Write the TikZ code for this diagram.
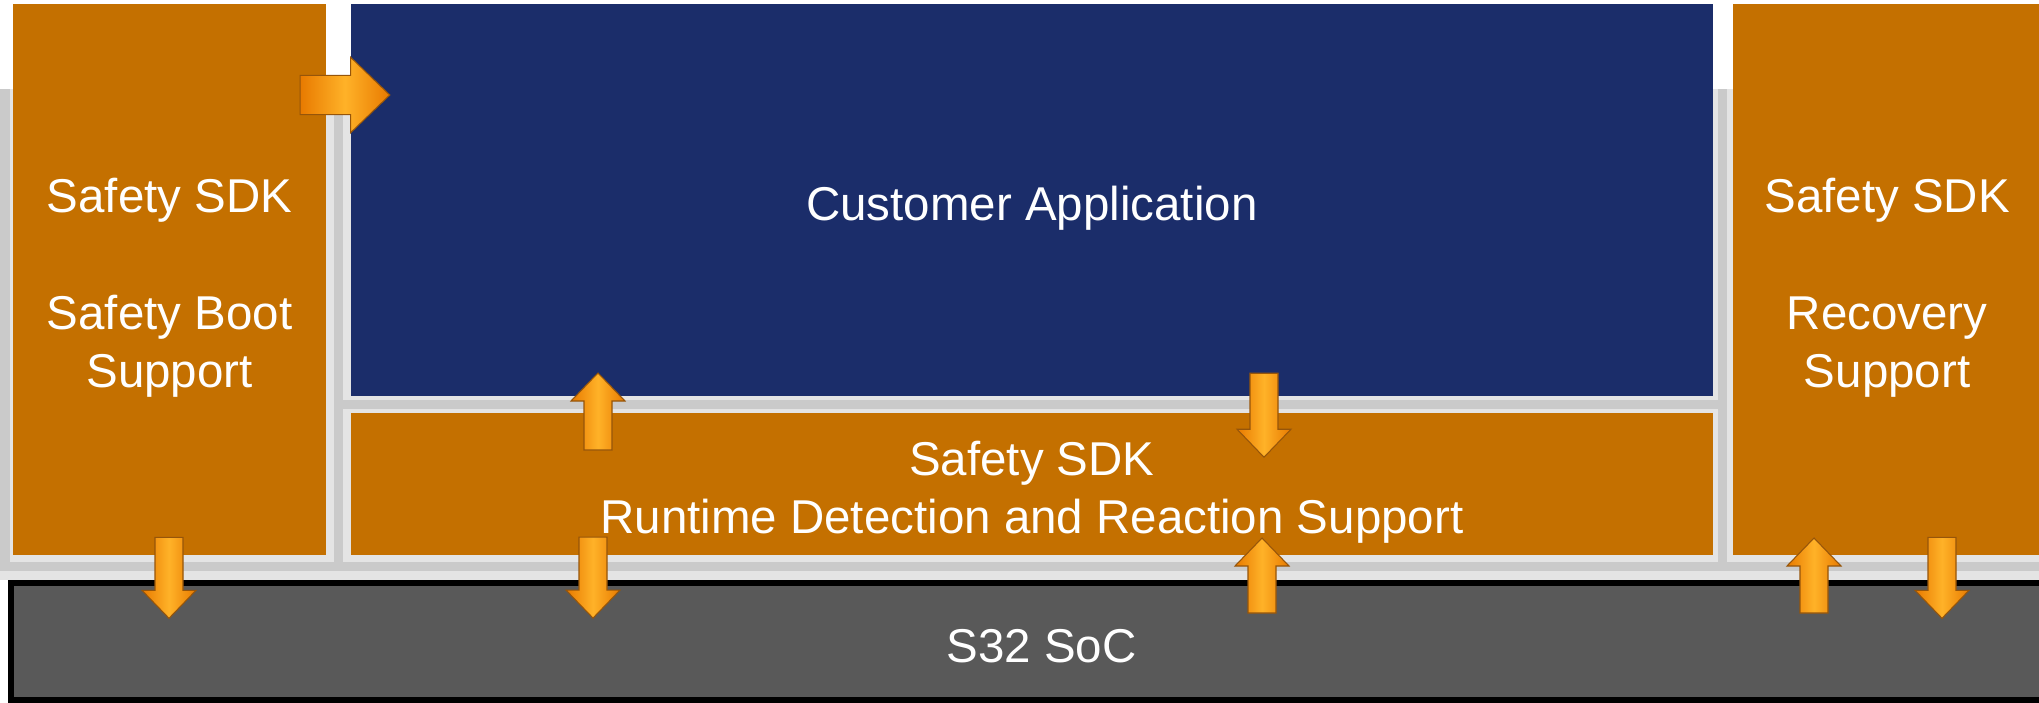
\documentclass[tikz,border=0pt]{standalone}
\usepackage{fontspec}
\setmainfont{Liberation Sans}
\usepackage{tikz}
\usetikzlibrary{calc}

\definecolor{sdkorange}{RGB}{196,112,0}
\definecolor{appblue}{RGB}{27,45,106}
\definecolor{socgray}{RGB}{89,89,89}
\definecolor{panelgray}{RGB}{228,228,228}
\definecolor{seamgray}{RGB}{202,202,202}
\definecolor{arrowlight}{RGB}{255,178,40}
\definecolor{arrowdark}{RGB}{232,122,0}
\definecolor{arrowedge}{RGB}{150,85,10}

% strut that pushes the first text line down a little
\newcommand{\lift}[1][14.5pt]{\rule{0pt}{#1}}

\begin{document}
\begin{tikzpicture}[x=0.01cm, y=-0.01cm,
  box/.style={anchor=north west, inner sep=0pt, outer sep=0pt, text=white, align=center,
    font=\fontsize{13.5}{16.6}\selectfont},
  sdkbox/.style={box, fill=sdkorange},
  seam/.style={draw=seamgray, line width=0.09cm},
  arrowbody/.style={left color=arrowdark, right color=arrowdark, middle color=arrowlight,
    draw=arrowedge, line width=0.3pt},
  pics/blockarrow/.style={code={
    \shade[arrowbody] (-14,0) -- (14,0) -- (14,#1) -- (27,#1) -- (0,#1+28) -- (-27,#1) -- (-14,#1) -- cycle;
  }}]
\useasboundingbox (0,0) rectangle (2039,703);
\clip (0,0) rectangle (2039,703);
\fill[white] (0,0) rectangle (2039,703);

% grey back panel
\fill[panelgray] (0,89) rectangle (2039,580);
\draw[seam] (5,89) -- (5,566);
\draw[seam] (338,89) -- (338,566);
\draw[seam] (1722,89) -- (1722,566);
\draw[seam] (338,404) -- (1722,404);
\draw[seam] (0,566) -- (2039,566);

% blocks
\node[sdkbox, minimum width=3.13cm, minimum height=5.51cm] (boot) at (13,4)
  {\lift Safety SDK\\[16.6pt]Safety Boot\\Support};
\node[box, fill=appblue, minimum width=13.61cm, minimum height=3.92cm] (app) at (351,4)
  {\lift Customer Application};
\node[sdkbox, minimum width=13.61cm, minimum height=1.42cm] (rdr) at (351,413)
  {\lift Safety SDK\\Runtime Detection and Reaction Support};
\node[sdkbox, minimum width=3.08cm, minimum height=5.51cm] (recov) at (1733,4)
  {\lift Safety SDK\\[16.6pt]Recovery\\Support};
\node[box, fill=socgray, draw=black, line width=0.06cm, minimum width=20.6cm, minimum height=1.17cm] (soc) at (11,583)
  {\lift[12pt]S32 SoC};

% arrows
\pic[scale=1.4, rotate=90] at ($(boot.north east)+(-26,91)$) {blockarrow=36};
\pic[rotate=180] at ($(rdr.north west)+(247,37)$) {blockarrow=49};
\pic at ($(app.south west)+(913,-23)$) {blockarrow=56};
\pic at ($(boot.south west)+(156,-18)$) {blockarrow=53};
\pic at ($(rdr.south west)+(242,-18)$) {blockarrow=53};
\pic[rotate=180] at ($(soc.north west)+(1251,30)$) {blockarrow=47};
\pic[rotate=180] at ($(soc.north west)+(1803,30)$) {blockarrow=47};
\pic at ($(recov.south west)+(209,-18)$) {blockarrow=53};
\end{tikzpicture}
\end{document}
